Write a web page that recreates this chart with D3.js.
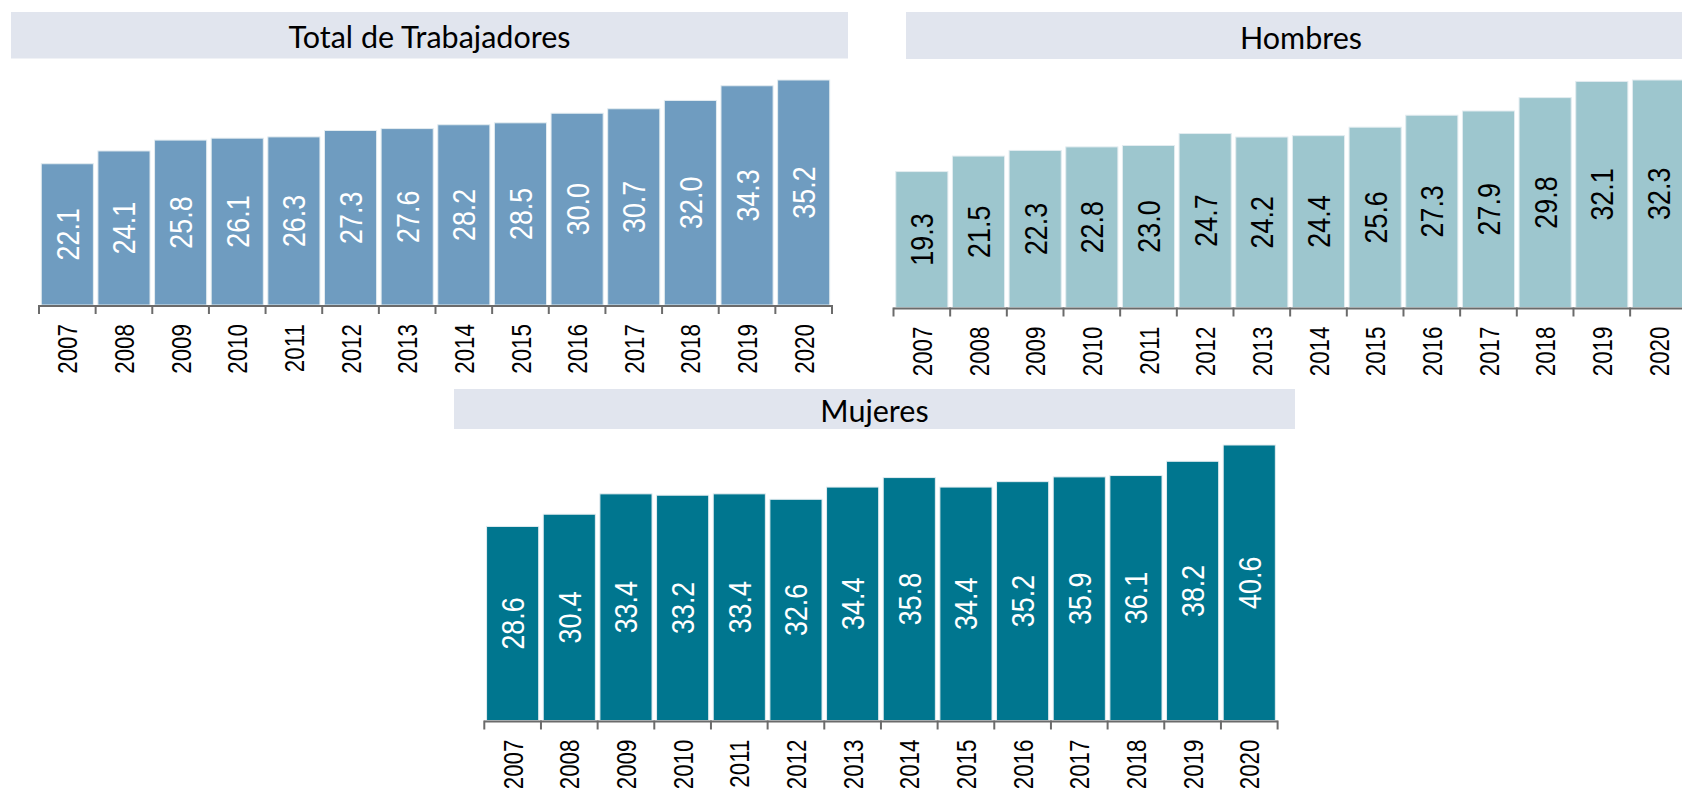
<!DOCTYPE html>
<html>
<head>
<meta charset="utf-8">
<script src="https://cdn.jsdelivr.net/npm/d3@7"></script>
<style>
  body { margin: 0; background: #fff; overflow: hidden; }
  svg { display: block; }
</style>
</head>
<body>
<div id="chart"></div>
<script>
// data
const years = ["2007", "2008", "2009", "2010", "2011", "2012", "2013", "2014", "2015", "2016", "2017", "2018", "2019", "2020"];
const totalValues = [22.1, 24.1, 25.8, 26.1, 26.3, 27.3, 27.6, 28.2, 28.5, 30.0, 30.7, 32.0, 34.3, 35.2];
const hombresValues = [19.3, 21.5, 22.3, 22.8, 23.0, 24.7, 24.2, 24.4, 25.6, 27.3, 27.9, 29.8, 32.1, 32.3];
const mujeresValues = [28.6, 30.4, 33.4, 33.2, 33.4, 32.6, 34.4, 35.8, 34.4, 35.2, 35.9, 36.1, 38.2, 40.6];
const titles = ["Total de Trabajadores", "Hombres", "Mujeres"];

// layout of each small chart
const panels = [
    { title: titles[0], values: totalValues, fill: "#6f9cc0", label: "#ffffff",
      band: [11, 12, 848, 58.5], axisX: [39, 832], base: 305, top: 80 },
    { title: titles[1], values: hombresValues, fill: "#9dc6ce", label: "#000000",
      band: [906, 12, 1696, 59], axisX: [893.5, 1686.8], base: 307.5, top: 80 },
    { title: titles[2], values: mujeresValues, fill: "#00768f", label: "#ffffff",
      band: [454, 389, 1295, 429], axisX: [484.3, 1277.6], base: 720.5, top: 445 }
];

const width = 1682, height = 792;
const svg = d3.select("#chart")
              .append("svg")
              .attr("width", width)
              .attr("height", height);

const pad = 0.08;

panels.forEach(function(p) {
    let g = svg.append("g");

    // title band
    g.append("rect")
     .attr("x", p.band[0])
     .attr("y", p.band[1])
     .attr("width", p.band[2] - p.band[0])
     .attr("height", p.band[3] - p.band[1])
     .style("fill", "#e1e5ee");

    g.append("text")
     .attr("x", (p.band[0] + p.band[2]) / 2)
     .attr("y", (p.band[1] + p.band[3]) / 2 + 1)
     .attr("text-anchor", "middle")
     .attr("dominant-baseline", "central")
     .style("font-family", "Lato, 'Open Sans', sans-serif")
     .style("font-size", "30.5px")
     .style("fill", "#000")
     .text(p.title);

    let x = d3.scaleBand()
              .domain(years)
              .range(p.axisX)
              .paddingInner(pad)
              .paddingOuter(pad / 2);

    let y = d3.scaleLinear()
              .domain([0, d3.max(p.values)])
              .range([p.base, p.top]);

    let data = years.map(function(yr, i) {
        return { year: yr, value: p.values[i] };
    });

    // bars
    g.selectAll(".bar")
     .data(data)
     .enter()
     .append("rect")
     .attr("class", "bar")
     .attr("x", d => x(d.year))
     .attr("y", d => y(d.value))
     .attr("width", x.bandwidth())
     .attr("height", d => y(0) - y(d.value))
     .style("fill", p.fill)
     .style("stroke", "#e3ecf0")
     .style("stroke-width", 1);

    // value labels, rotated and centred in the bar
    g.selectAll(".val")
     .data(data)
     .enter()
     .append("text")
     .attr("class", "val")
     .attr("transform", d => `translate(${x(d.year) + x.bandwidth() / 2}, ${(y(d.value) + y(0)) / 2}) rotate(-90) scale(0.84, 1)`)
     .attr("text-anchor", "middle")
     .attr("dy", "0.36em")
     .style("font-family", "'Liberation Sans', Arial, sans-serif")
     .style("font-size", "32px")
     .style("fill", p.label)
     .text(d => d.value.toFixed(1));

    // axis: baseline with ticks between the categories
    let step = x.step();
    let bounds = d3.range(years.length + 1).map(i => p.axisX[0] + i * step);

    g.append("line")
     .attr("x1", p.axisX[0])
     .attr("x2", p.axisX[1])
     .attr("y1", p.base + 1)
     .attr("y2", p.base + 1)
     .style("stroke", "#6b6b6b")
     .style("stroke-width", 2);

    g.selectAll(".tick")
     .data(bounds)
     .enter()
     .append("line")
     .attr("class", "tick")
     .attr("x1", d => d)
     .attr("x2", d => d)
     .attr("y1", p.base)
     .attr("y2", p.base + 9)
     .style("stroke", "#6b6b6b")
     .style("stroke-width", 2);

    g.selectAll(".yr")
     .data(years)
     .enter()
     .append("text")
     .attr("class", "yr")
     .attr("transform", d => `translate(${x(d) + x.bandwidth() / 2}, ${p.base + 19}) rotate(-90) scale(0.8, 1)`)
     .attr("text-anchor", "end")
     .attr("dy", "0.36em")
     .style("font-family", "'Liberation Sans', Arial, sans-serif")
     .style("font-size", "28px")
     .style("fill", "#000")
     .text(d => d);
});
</script>
</body>
</html>
